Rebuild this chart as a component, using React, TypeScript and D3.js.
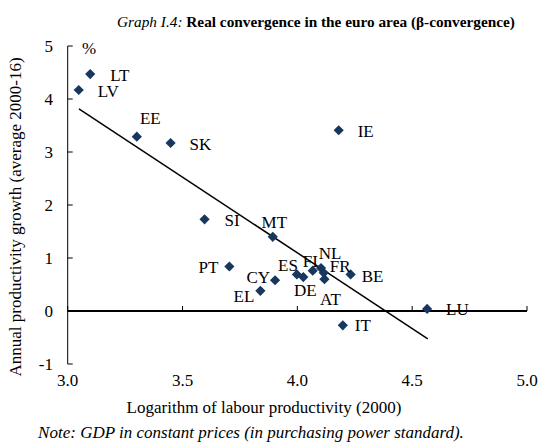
import React from "react";
import * as d3 from "d3";

const countries = ["LT","LV","EE","SK","IE","SI","MT","PT","CY","EL","ES","DE","FI","NL","FR","AT","BE","LU","IT"];
const logProductivity = [3.098,3.048,3.301,3.448,4.18,3.596,3.893,3.704,3.903,3.839,3.998,4.026,4.067,4.103,4.115,4.118,4.232,4.565,4.198];
const growth = [4.47,4.17,3.29,3.17,3.41,1.73,1.40,0.84,0.58,0.38,0.69,0.64,0.76,0.81,0.72,0.60,0.69,0.04,-0.27];
const trendX = [3.049, 4.568];
const trendY = [3.815, -0.525];
const xTicks = [3.0, 3.5, 4.0, 4.5, 5.0];
const yTicks = [-1, 0, 1, 2, 3, 4, 5];

// label placement (layout only): [dx, dy, anchor]
const labelPos: Record<string, [number, number, string]> = {
  LT: [20, 1, "start"], LV: [19, 1, "start"], EE: [13.5, -19, "middle"], SK: [19, 1, "start"],
  IE: [19, 1, "start"], SI: [20, 1, "start"], MT: [1.5, -14.5, "middle"], PT: [-11, 1, "end"],
  CY: [-5, -3, "end"], EL: [-6, 5, "end"], ES: [1, -9, "end"], FI: [-2.5, -10, "middle"],
  NL: [9, -15, "middle"], FR: [16.5, -7, "middle"], BE: [11, 2, "start"], DE: [2, 13, "middle"],
  AT: [6, 20, "middle"], LU: [19, 0, "start"], IT: [12, 0, "start"],
};

const W = 541, H = 445;
const FONT = "Liberation Serif";

export default function App() {
  const x = d3.scaleLinear().domain([3, 5]).range([67.7, 527]);
  const y = d3.scaleLinear().domain([-1, 5]).range([364, 46]);
  const diamond = d3.symbol(d3.symbolSquare, 52)()!;
  const line = d3.line<number>().x((d) => x(trendX[d])).y((d) => y(trendY[d]));
  const navy = "#17375e";
  const ts = { fontFamily: FONT };
  return (
    <svg width={W} height={H} style={{ position: "absolute", left: 0, top: 0, background: "#fff", fontFamily: FONT }}>
      <text x={316} y={27} textAnchor="middle" fontSize={15.3} style={ts}>
        <tspan fontStyle="italic">Graph I.4:</tspan>
        <tspan fontWeight="bold"> Real convergence in the euro area (β-convergence)</tspan>
      </text>
      {/* y axis */}
      <line x1={x(3)} x2={x(3)} y1={y(5)} y2={y(-1)} stroke="#000" strokeWidth={1} />
      {yTicks.map((t) => (
        <g key={t}>
          <line x1={x(3)} x2={x(3) + 5} y1={y(t)} y2={y(t)} stroke="#000" />
          <text x={53} y={y(t)} dy="0.35em" textAnchor="end" fontSize={17} style={ts}>{t}</text>
        </g>
      ))}
      <text x={82} y={y(5) + 2} dy="0.35em" fontSize={17} style={ts}>%</text>
      {/* x axis at 0 */}
      <line x1={x(3)} x2={x(5)} y1={y(0)} y2={y(0)} stroke="#000" strokeWidth={2} />
      {xTicks.map((t) => (
        <g key={t}>
          <line x1={x(t)} x2={x(t)} y1={y(0) - 5} y2={y(0)} stroke="#000" />
          <text x={x(t)} y={380} dy="0.35em" textAnchor="middle" fontSize={17} style={ts}>{t.toFixed(1)}</text>
        </g>
      ))}
      {/* trend line */}
      <path d={line([0, 1]) || ""} stroke="#000" strokeWidth={1.5} fill="none" />
      {/* points */}
      {countries.map((c, i) => (
        <path key={c} d={diamond} fill={navy}
          transform={`translate(${x(logProductivity[i])},${y(growth[i])}) rotate(45)`} />
      ))}
      {countries.map((c, i) => {
        const [dx, dy, anchor] = labelPos[c];
        return (
          <text key={"l" + c} x={x(logProductivity[i]) + dx} y={y(growth[i]) + dy} dy="0.35em"
            textAnchor={anchor} fontSize={17} style={ts}>{c}</text>
        );
      })}
      <text x={264} y={407} dy="0.35em" textAnchor="middle" fontSize={17} style={ts}>Logarithm of labour productivity (2000)</text>
      <text x={251} y={432} dy="0.35em" textAnchor="middle" fontSize={17} fontStyle="italic" style={ts}>Note: GDP in constant prices (in purchasing power standard).</text>
      <text transform={`translate(15,${217}) rotate(-90)`} dy="0.35em" textAnchor="middle" fontSize={17} style={ts}>Annual productivity growth (average 2000-16)</text>
    </svg>
  );
}
